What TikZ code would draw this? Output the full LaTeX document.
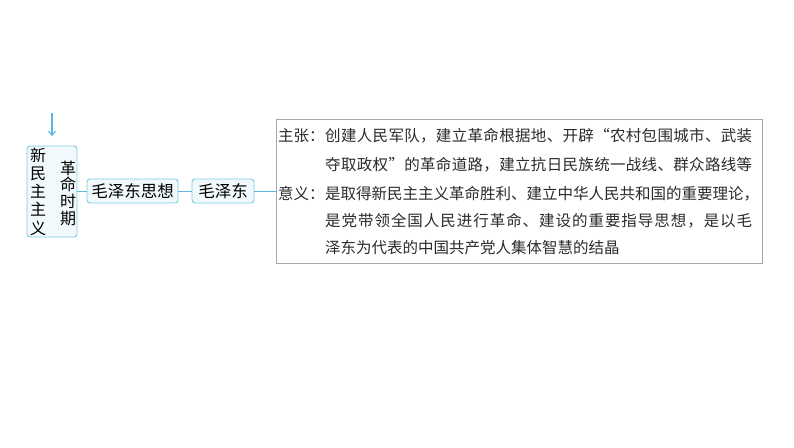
\documentclass[tikz,border=0pt]{standalone}
\usepackage{fontspec}
\usetikzlibrary{arrows.meta}
\setmainfont{Noto Sans CJK SC}
\definecolor{mapline}{HTML}{5CB8DC}
\definecolor{mapedge}{HTML}{7CCBE6}
\definecolor{mapfill}{HTML}{F1F9FD}
\definecolor{notegray}{HTML}{A8A8A8}
\definecolor{notetext}{HTML}{2B2B2B}
% spread the characters of one line over a given width
\newcommand\spreadline[2]{\makebox[#1][s]{\spreadfirst#2\relax}}
\def\spreadfirst#1{#1\spreadrest}
\def\spreadrest#1{\ifx#1\relax\else\hfil#1\expandafter\spreadrest\fi}
\begin{document}
\begin{tikzpicture}[x=1pt,y=-1pt,
  mapbox/.style={draw=mapedge,fill=mapfill,rounded corners=3pt,line width=0.9pt,inner sep=0pt},
  vtext/.style={align=center,inner sep=0pt,font=\fontsize{16}{18.3}\selectfont},
  notebox/.style={draw=notegray,line width=0.7pt,inner sep=0pt,minimum width=486pt,minimum height=144pt},
  noteline/.style={anchor=west,inner sep=0pt,text=notetext,font=\fontsize{15.5}{15.5}\selectfont}]
\useasboundingbox (0,0) rectangle (794,447);
% left column
\node [mapbox,minimum width=50pt,minimum height=91pt] (period) at (52,191.5) {};
\node [vtext] (newdem) at (38,191.5) {新\\民\\主\\主\\义};
\node [vtext,font=\fontsize{16}{16.7}\selectfont] (revtime) at (68,193) {革\\命\\时\\期};
\coordinate (arrtop) at (52,113);
\coordinate (arrtip) at (52,136);
\draw [mapline,line width=1.1pt,-{Straight Barb[length=4pt,width=7pt]}] (arrtop) -- (arrtip);
% chain of boxes
\node [mapbox,minimum width=91pt,minimum height=24pt,font=\fontsize{16.5}{16.5}\selectfont] (thought) at (132.5,191) {毛泽东思想};
\node [mapbox,minimum width=62pt,minimum height=24pt,font=\fontsize{16.5}{16.5}\selectfont] (mao) at (223,191) {毛泽东};
\draw [mapline,line width=0.9pt] (period.east |- thought.west) -- (thought.west);
\draw [mapline,line width=0.9pt] (thought.east) -- (mao.west);
% notes
\node [notebox] (detail) at (519,191) {};
\draw [mapline,line width=0.9pt] (mao.east) -- (detail.west);
\node [noteline] (claimlab) at (278,136) {主张：};
\node [noteline] (claim1) at (325,136) {\spreadline{427pt}{创建人民军队，建立革命根据地、开辟“农村包围城市、武装}};
\node [noteline] (claim2) at (325,165) {\spreadline{427pt}{夺取政权”的革命道路，建立抗日民族统一战线、群众路线等}};
\node [noteline] (meanlab) at (278,194) {意义：};
\node [noteline] (mean1) at (325,194) {\spreadline{427pt}{是取得新民主主义革命胜利、建立中华人民共和国的重要理论，}};
\node [noteline] (mean2) at (325,221) {\spreadline{427pt}{是党带领全国人民进行革命、建设的重要指导思想，是以毛}};
\node [noteline] (mean3) at (325,248) {泽东为代表的中国共产党人集体智慧的结晶};
\end{tikzpicture}
\end{document}
